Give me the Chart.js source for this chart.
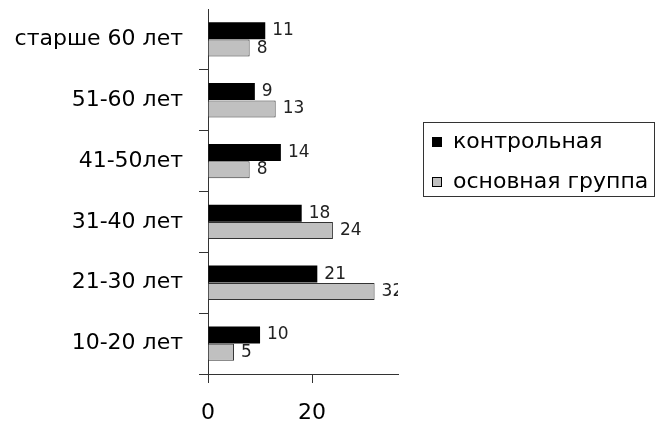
<!DOCTYPE html>
<html>
<head>
<meta charset="utf-8">
<script src="https://cdn.jsdelivr.net/npm/chart.js@4.4.0/dist/chart.umd.min.js"></script>
<style>
    html, body { margin: 0; padding: 0; background: #fff; }
    #wrap { position: relative; width: 656px; height: 426px; }
</style>
</head>
<body>
<div id="wrap"><canvas id="chart"></canvas></div>
<script>
const categories = ["старше 60 лет", "51-60 лет", "41-50лет", "31-40 лет", "21-30 лет", "10-20 лет"];
const controlValues = [11, 9, 14, 18, 21, 10];
const mainValues = [8, 13, 8, 24, 32, 5];
const seriesNames = ["контрольная", "основная группа"];
const xTicks = [0, 20];

const AXIS = "#333";

// numbers next to the bar ends, clipped to the plot like the original
const valueLabels = {
    id: "valueLabels",
    afterDatasetsDraw(chart) {
        const { ctx, chartArea } = chart;
        ctx.save();
        ctx.beginPath();
        ctx.rect(chartArea.left, 0, chartArea.right - chartArea.left, chart.height);
        ctx.clip();
        ctx.font = "17px 'DejaVu Sans'";
        ctx.fillStyle = "#222";
        ctx.textBaseline = "middle";
        chart.data.datasets.forEach((ds, i) => {
            chart.getDatasetMeta(i).data.forEach((bar, j) => {
                ctx.fillText(String(ds.data[j]), bar.x + 7, bar.y);
            });
        });
        ctx.restore();
    }
};

// boxed legend to the right of the plot
const boxLegend = {
    id: "boxLegend",
    afterDraw(chart) {
        const { ctx, chartArea } = chart;
        const left = chartArea.right + 25;
        const top = 122;
        const w = 232, h = 75;
        ctx.save();
        ctx.fillStyle = "#fff";
        ctx.fillRect(left, top, w, h);
        ctx.strokeStyle = AXIS;
        ctx.lineWidth = 1;
        ctx.strokeRect(left + 0.5, top + 0.5, w - 1, h - 1);
        ctx.font = "22px 'DejaVu Sans'";
        ctx.textBaseline = "middle";
        chart.data.datasets.forEach((ds, i) => {
            const cy = top + 20 + i * 40;
            ctx.fillStyle = ds.backgroundColor;
            ctx.fillRect(left + 9, cy - 5, 10, 10);
            ctx.strokeStyle = "#000";
            ctx.strokeRect(left + 9.5, cy - 4.5, 9, 9);
            ctx.fillStyle = "#000";
            ctx.fillText(ds.label, left + 30, cy);
        });
        ctx.restore();
    }
};

Chart.defaults.font.family = "'DejaVu Sans', Verdana, sans-serif";
Chart.defaults.color = "#000";

new Chart(document.getElementById("chart"), {
    type: "bar",
    data: {
        labels: categories,
        datasets: [
            {
                label: seriesNames[0],
                data: controlValues,
                backgroundColor: "#000000",
                borderColor: "#000000",
                borderWidth: 0,
                categoryPercentage: 0.57,
                barPercentage: 0.98,
            },
            {
                label: seriesNames[1],
                data: mainValues,
                backgroundColor: "#c0c0c0",
                borderColor: "#333333",
                borderWidth: 1,
                categoryPercentage: 0.57,
                barPercentage: 0.98,
            },
        ],
    },
    options: {
        indexAxis: "y",
        responsive: true,
        maintainAspectRatio: false,
        animation: false,
        layout: { padding: { top: 9, right: 258, bottom: 0, left: 0 } },
        plugins: {
            legend: { display: false },
            tooltip: { enabled: false },
        },
        scales: {
            x: {
                min: 0,
                max: 36.5,
                afterBuildTicks: (axis) => { axis.ticks = xTicks.map((v) => ({ value: v })); },
                afterFit: (axis) => { axis.height = 52; axis.paddingLeft = 0; axis.paddingRight = 0; },
                grid: { drawOnChartArea: false, tickLength: 9, color: AXIS },
                border: { color: AXIS },
                ticks: { font: { size: 22 }, padding: 17, maxRotation: 0 },
            },
            y: {
                afterFit: (axis) => { axis.width = 208; axis.paddingTop = 0; axis.paddingBottom = 0; },
                grid: {
                    drawOnChartArea: false,
                    tickLength: 9,
                    color: AXIS,
                    tickColor: (c) => (c.index === 0 ? "rgba(0,0,0,0)" : AXIS),
                },
                border: { color: AXIS },
                ticks: { font: { size: 22 }, padding: 16 },
            },
        },
    },
    plugins: [valueLabels, boxLegend],
});
</script>
</body>
</html>
